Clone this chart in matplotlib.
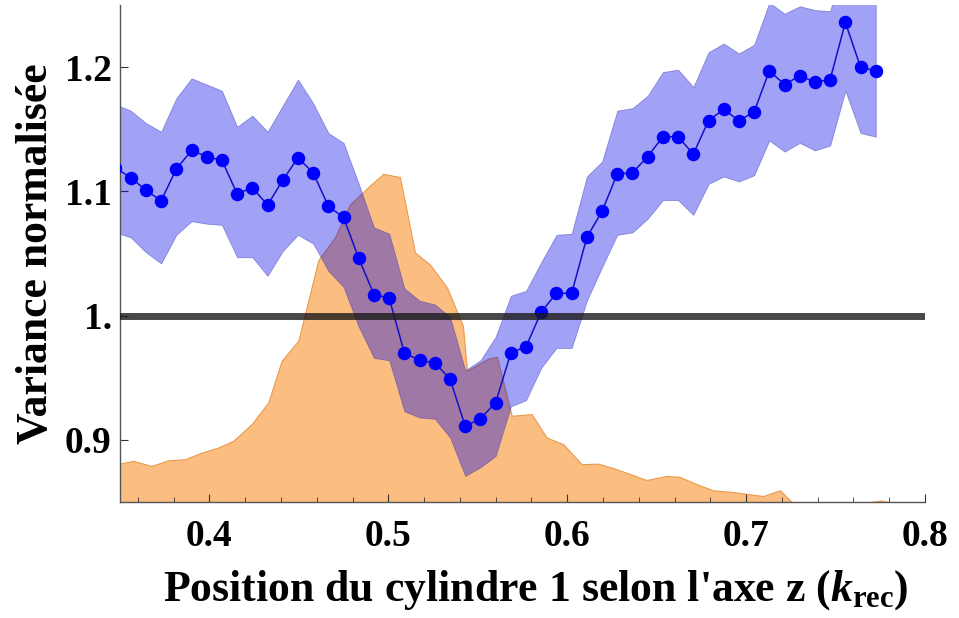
import matplotlib
matplotlib.use("Agg")
import matplotlib.pyplot as plt
from matplotlib.ticker import MultipleLocator

plt.rcParams['font.family'] = ['Liberation Serif', 'DejaVu Serif']
plt.rcParams['font.weight'] = 'bold'
plt.rcParams['mathtext.fontset'] = 'custom'
plt.rcParams['mathtext.rm'] = 'Liberation Serif:bold'
plt.rcParams['mathtext.bf'] = 'Liberation Serif:bold'
plt.rcParams['mathtext.it'] = 'Liberation Serif:bold:italic'

# Cylinder position (k_rec) for each measurement
position = [0.3475, 0.3560, 0.3645, 0.3730, 0.3815, 0.3900, 0.3985, 0.4070,
            0.4155, 0.4240, 0.4325, 0.4410, 0.4495, 0.4580, 0.4665, 0.4750,
            0.4835, 0.4920, 0.5005, 0.5090, 0.5175, 0.5260, 0.5345, 0.5430,
            0.5515, 0.5600, 0.5685, 0.5770, 0.5855, 0.5940, 0.6025, 0.6110,
            0.6195, 0.6280, 0.6365, 0.6450, 0.6535, 0.6620, 0.6705, 0.6790,
            0.6875, 0.6960, 0.7045, 0.7130, 0.7215, 0.7300, 0.7385, 0.7470,
            0.7555, 0.7640, 0.7725]

# Normalised variance
variance = [1.119, 1.111, 1.101, 1.0925, 1.118, 1.133, 1.128, 1.125,
            1.098, 1.103, 1.089, 1.109, 1.127, 1.115, 1.088, 1.079,
            1.046, 1.017, 1.014, 0.970, 0.964, 0.962, 0.949, 0.911,
            0.917, 0.930, 0.970, 0.975, 1.003, 1.018, 1.018, 1.063,
            1.084, 1.114, 1.115, 1.128, 1.144, 1.144, 1.130, 1.157,
            1.166, 1.157, 1.164, 1.197, 1.186, 1.193, 1.188, 1.190,
            1.236, 1.200, 1.197]

# Confidence band
variance_hi = [1.170, 1.165, 1.155, 1.148, 1.175, 1.191, 1.186, 1.181,
               1.152, 1.161, 1.148, 1.169, 1.190, 1.171, 1.147, 1.139,
               1.106, 1.071, 1.066, 1.022, 1.012, 1.009, 0.999, 0.956,
               0.964, 0.983, 1.016, 1.020, 1.043, 1.065, 1.066, 1.112,
               1.124, 1.165, 1.167, 1.177, 1.196, 1.198, 1.184, 1.212,
               1.219, 1.211, 1.218, 1.252, 1.243, 1.249, 1.246, 1.245,
               1.290, 1.256, 1.256]
variance_lo = [1.067, 1.063, 1.051, 1.042, 1.065, 1.076, 1.074, 1.073,
               1.047, 1.047, 1.032, 1.052, 1.065, 1.058, 1.036, 1.023,
               0.991, 0.966, 0.964, 0.923, 0.918, 0.917, 0.902, 0.871,
               0.878, 0.887, 0.927, 0.932, 0.958, 0.974, 0.974, 1.012,
               1.039, 1.065, 1.067, 1.078, 1.093, 1.093, 1.081, 1.106,
               1.112, 1.108, 1.113, 1.141, 1.132, 1.139, 1.133, 1.137,
               1.181, 1.147, 1.144]

# Distribution of the cylinder position (scaled onto the variance axis)
dist_x = [0.3500, 0.3574, 0.3677, 0.3770, 0.3863, 0.3957, 0.4049, 0.4133,
          0.4236, 0.4329, 0.4404, 0.4497, 0.4553, 0.4608, 0.4702, 0.4786,
          0.4888, 0.4972, 0.5065, 0.5149, 0.5233, 0.5328, 0.5417, 0.5440,
          0.5557, 0.5607, 0.5690, 0.5801, 0.5885, 0.5978, 0.6081, 0.6174,
          0.6276, 0.6444, 0.6556, 0.6630, 0.6724, 0.6816, 0.6910, 0.7096,
          0.7189, 0.7255, 0.7700, 0.7750, 0.7800, 0.8000]
dist_y = [0.8809, 0.8831, 0.8790, 0.8836, 0.8844, 0.8898, 0.8938, 0.8992,
          0.9127, 0.9301, 0.9637, 0.9798, 1.0121, 1.0444, 1.0631, 1.0895,
          1.1035, 1.1141, 1.1115, 1.0508, 1.0411, 1.0226, 0.9919, 0.9556,
          0.9653, 0.9669, 0.9194, 0.9207, 0.9019, 0.8965, 0.8804, 0.8809,
          0.8764, 0.8677, 0.8710, 0.8702, 0.8643, 0.8594, 0.8583, 0.8548,
          0.8594, 0.8500, 0.8500, 0.8512, 0.8500, 0.8500]

reference_level = 1.0

fig = plt.figure(figsize=(9.59, 6.18), dpi=100)
ax = fig.add_axes([0.1251, 0.1877, 0.8394, 0.8042])

ax.fill_between(dist_x, 0.80, dist_y, facecolor='#fcbe80',
                edgecolor='#e89a4c', linewidth=0.8, zorder=1)
ax.fill_between(position, variance_lo, variance_hi, facecolor=(0.0, 0.0, 0.9, 0.37),
                edgecolor=(0.2, 0.2, 0.7, 0.45), linewidth=0.6, zorder=2)
ax.plot(position, variance, color='#1010c8', linewidth=1.1, zorder=3)
ax.plot(position, variance, linestyle='none', marker='o', markersize=8.7,
        markerfacecolor='#0000ff', markeredgecolor='#0000ff', zorder=4)
ax.axhline(reference_level, color=(0.1, 0.1, 0.1, 0.8), linewidth=5, zorder=5)

ax.set_xlim(0.35, 0.80)
ax.set_ylim(0.85, 1.25)

ax.xaxis.set_major_locator(MultipleLocator(0.1))
ax.xaxis.set_minor_locator(MultipleLocator(0.02))
ax.set_yticks([0.9, 1.0, 1.1, 1.2])
ax.set_xticks([0.4, 0.5, 0.6, 0.7, 0.8])
ax.set_xticklabels(['0.4', '0.5', '0.6', '0.7', '0.8'])
ax.set_yticklabels(['0.9', '1.', '1.1', '1.2'])

for side in ('top', 'right'):
    ax.spines[side].set_visible(False)
for side in ('left', 'bottom'):
    ax.spines[side].set_color('#555555')
    ax.spines[side].set_linewidth(1.0)

ax.tick_params(axis='both', which='major', direction='in', length=6,
               width=0.8, color='#333333', labelsize=27)
ax.tick_params(axis='x', which='minor', direction='in', length=3.5,
               width=0.6, color='#333333')
ax.tick_params(axis='x', which='major', pad=12)
ax.tick_params(axis='y', which='major', pad=6)

ax.set_xlabel(r"Position du cylindre 1 selon l'axe z ($k_{\mathrm{rec}}$)",
              fontsize=31.5, fontweight='bold', labelpad=10)
ax.xaxis.label.set_x(0.517)
ax.set_ylabel("Variance normalisée", fontsize=31.5, fontweight='bold', labelpad=6)

fig.savefig("out.png", dpi=100)
